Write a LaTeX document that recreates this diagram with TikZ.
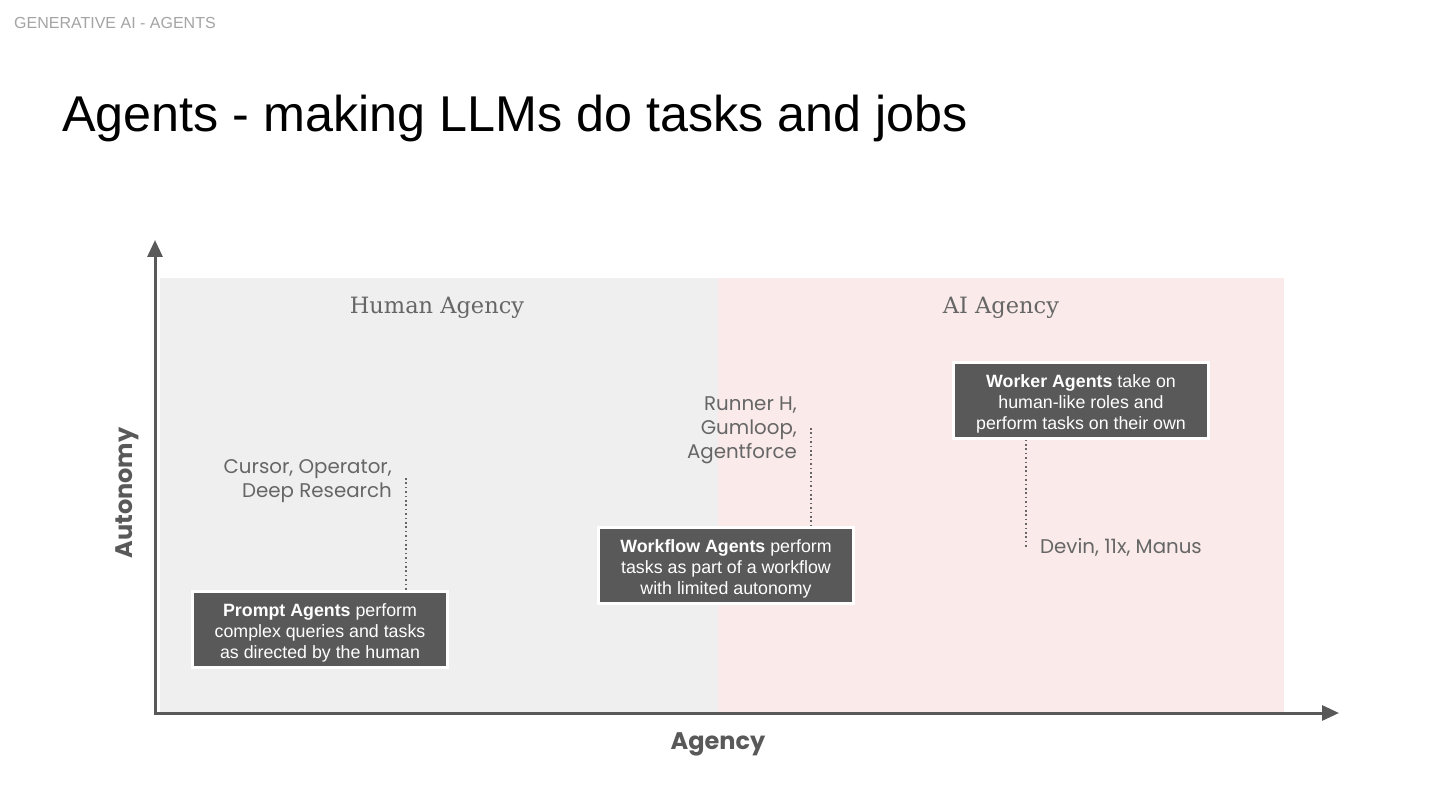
\documentclass[tikz,border=0pt]{standalone}
\usepackage{fontspec}
\setmainfont{Liberation Sans}
\newfontfamily\labfont{Poppins}
\newfontfamily\serfont{DejaVu Serif}
\usetikzlibrary{arrows.meta}
\definecolor{axisgray}{HTML}{595959}
\definecolor{humanbg}{HTML}{EFEFEF}
\definecolor{aibg}{HTML}{FAEAEA}
\definecolor{labgray}{HTML}{666666}
\definecolor{hdrgray}{HTML}{A4A4A4}
\definecolor{boxfill}{HTML}{595959}
\newcommand{\firstln}{\rule{0pt}{21pt}}
\tikzset{
  agentbox/.style={draw=white, line width=3pt, fill=boxfill, text=white, align=center,
    font=\fontsize{17.8}{21}\selectfont, minimum width=255pt, minimum height=76pt, inner sep=0pt},
  toollabel/.style={text=labgray, font=\labfont\fontsize{19.8}{24}\selectfont, inner sep=0pt},
  zonelabel/.style={text=labgray, font=\serfont\fontsize{22.5}{28}\selectfont, inner sep=0pt},
  axislabel/.style={text=axisgray, font=\labfont\bfseries\fontsize{24}{28}\selectfont, inner sep=0pt},
  axisline/.style={draw=axisgray, line width=3pt, -{Triangle[length=17pt, width=15pt]}},
  leader/.style={draw=labgray, line width=1.6pt, dash pattern=on 1.6pt off 2.8pt}
}
\begin{document}
\begin{tikzpicture}[x=1pt,y=-1pt]
\useasboundingbox (0,0) rectangle (1440,810);
\fill[white] (0,0) rectangle (1440,810);
% header & title
\node[anchor=west, text=hdrgray, font=\fontsize{16}{18}\selectfont, inner sep=0pt] (hdr) at (14,23) {GENERATIVE AI - AGENTS};
\node[anchor=base west, text=black, font=\fontsize{50.3}{56}\selectfont, inner sep=0pt] (title) at (62,132) {Agents - making LLMs do tasks and jobs};
% zones
\fill[humanbg] (160,278) rectangle (718,713);
\fill[aibg] (718,278) rectangle (1284,713);
\node[zonelabel] (hum) at (437,308) {Human Agency};
\node[zonelabel] (ai) at (1001,308) {AI Agency};
% axes
\coordinate (origin) at (155,713);
\coordinate (ytip) at (155,240);
\coordinate (xtip) at (1339,713);
\draw[axisline] ([yshift=1.5pt]origin) -- (ytip);
\draw[axisline] ([xshift=-1.5pt]origin) -- (xtip);
\node[axislabel, rotate=90] (ylab) at (127,493) {Autonomy};
\node[axislabel] (xlab) at (718,744) {Agency};
% boxes
\node[agentbox] (prompt) at (320,629) {\firstln\textbf{Prompt Agents} perform\\complex queries and tasks\\as directed by the human};
\node[agentbox] (workflow) at (726,565) {\firstln\textbf{Workflow Agents} perform\\tasks as part of a workflow\\with limited autonomy};
\node[agentbox] (worker) at (1081,400) {\firstln\textbf{Worker Agents} take on\\human-like roles and\\perform tasks on their own};
% tool labels
\node[toollabel, anchor=north east, align=right] (cursor) at (392,459) {Cursor, Operator,\\Deep Research};
\node[toollabel, anchor=north east, align=right] (runner) at (797,396) {Runner H,\\Gumloop,\\Agentforce};
\node[toollabel, anchor=west] (devin) at (1040,547) {Devin, 11x, Manus};
% leaders
\coordinate (c1) at (406,478);
\coordinate (c2) at (811,428);
\coordinate (c3) at (1026,549);
\draw[leader] (c1) -- (c1 |- prompt.north);
\draw[leader] (c2) -- (c2 |- workflow.north);
\draw[leader] (worker.south -| c3) -- (c3);
\end{tikzpicture}
\end{document}
